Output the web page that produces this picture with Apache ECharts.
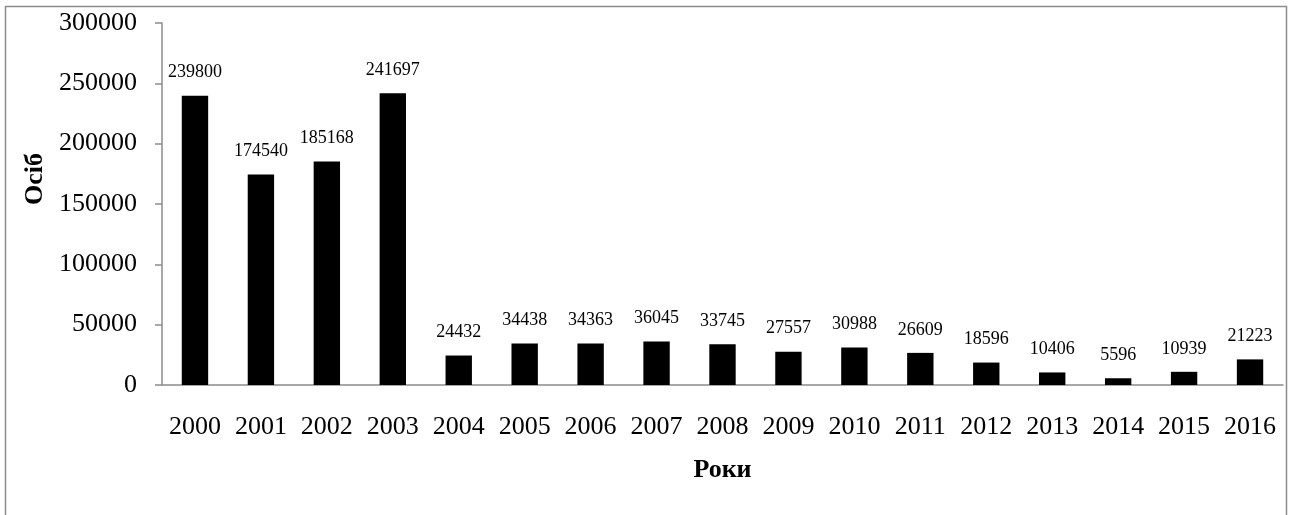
<!DOCTYPE html>
<html>
<head>
<meta charset="utf-8">
<script src="https://cdn.jsdelivr.net/npm/echarts@6/dist/echarts.min.js"></script>
<style>
html,body{margin:0;padding:0;background:#fff;}
#c{width:1289px;height:515px;}
</style>
</head>
<body>
<div id="c"></div>
<script>
const years = ['2000','2001','2002','2003','2004','2005','2006','2007','2008','2009','2010','2011','2012','2013','2014','2015','2016'];
const persons = [239800,174540,185168,241697,24432,34438,34363,36045,33745,27557,30988,26609,18596,10406,5596,10939,21223];
const yTicks = [0,50000,100000,150000,200000,250000,300000];
const xTitle = 'Роки';
const yTitle = 'Осіб';

const font = '"Liberation Serif","Times New Roman",serif';
const chart = echarts.init(document.getElementById('c'));
chart.setOption({
  animation:false,
  backgroundColor:'#fff',
  graphic:[
    {type:'rect',shape:{x:5.5,y:6.5,width:1281,height:520},style:{fill:'none',stroke:'#8c8c8c',lineWidth:1.5},silent:true},
    {type:'text',x:35,y:179,rotation:Math.PI/2,style:{text:yTitle,font:'bold 26px '+font,fill:'#000',align:'center',verticalAlign:'middle'}}
  ],
  grid:{left:162,top:23,right:6,bottom:130},
  xAxis:{
    type:'category',data:years,
    name:xTitle,nameLocation:'middle',nameGap:72,
    nameTextStyle:{fontFamily:font,fontSize:26,fontWeight:'bold',color:'#000'},
    axisLine:{lineStyle:{color:'#8c8c8c',width:1.5}},
    axisTick:{show:false},
    axisLabel:{fontFamily:font,fontSize:26,color:'#000',margin:29,interval:0}
  },
  yAxis:{
    type:'value',min:yTicks[0],max:yTicks[yTicks.length-1],interval:yTicks[1]-yTicks[0],
    axisLine:{show:true,lineStyle:{color:'#8c8c8c',width:1.5}},
    axisTick:{show:true,length:7,lineStyle:{color:'#8c8c8c',width:1.5}},
    splitLine:{show:false},
    axisLabel:{fontFamily:font,fontSize:26,color:'#000',margin:25,formatter:function(v){return String(v);}}
  },
  series:[{
    type:'bar',data:persons,barWidth:'40%',
    itemStyle:{color:'#000'},
    label:{show:true,position:'top',distance:14,fontFamily:font,fontSize:18,color:'#000'}
  }]
});
</script>
</body>
</html>
